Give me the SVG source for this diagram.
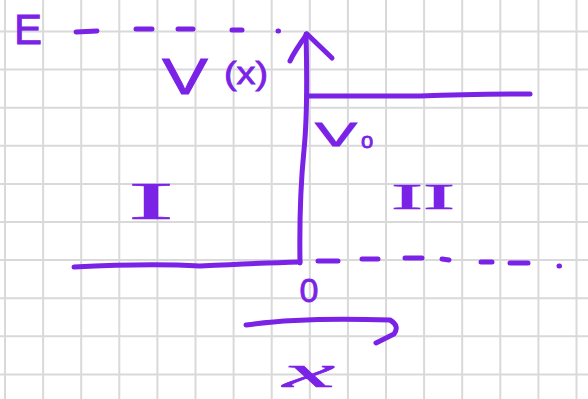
<svg xmlns="http://www.w3.org/2000/svg" width="588" height="399" viewBox="0 0 588 399">
<defs>
<style>
.grid line{stroke:#d9d9d9;stroke-width:2}
.pen{fill:none;stroke:#7a22e6;stroke-width:5;stroke-linecap:round;stroke-linejoin:round}
.lbl{fill:#7a22e6;stroke:#7a22e6;stroke-width:0.8;font-family:"Liberation Sans",Arial,sans-serif}
.ser{fill:#7a22e6;stroke:#7a22e6;stroke-width:0.6;font-family:"Liberation Serif","Times New Roman",serif}
</style>
</defs>
<rect width="588" height="399" fill="#ffffff"/>
<g class="grid">
<line x1="5" y1="0" x2="5" y2="399"/><line x1="43.1" y1="0" x2="43.1" y2="399"/><line x1="81.2" y1="0" x2="81.2" y2="399"/><line x1="119.3" y1="0" x2="119.3" y2="399"/><line x1="157.4" y1="0" x2="157.4" y2="399"/><line x1="195.5" y1="0" x2="195.5" y2="399"/><line x1="233.6" y1="0" x2="233.6" y2="399"/><line x1="271.7" y1="0" x2="271.7" y2="399"/><line x1="309.8" y1="0" x2="309.8" y2="399"/><line x1="347.9" y1="0" x2="347.9" y2="399"/><line x1="386" y1="0" x2="386" y2="399"/><line x1="424.1" y1="0" x2="424.1" y2="399"/><line x1="462.2" y1="0" x2="462.2" y2="399"/><line x1="500.3" y1="0" x2="500.3" y2="399"/><line x1="538.4" y1="0" x2="538.4" y2="399"/><line x1="576.5" y1="0" x2="576.5" y2="399"/>
<line x1="0" y1="31.5" x2="588" y2="31.5"/><line x1="0" y1="69.6" x2="588" y2="69.6"/><line x1="0" y1="107.7" x2="588" y2="107.7"/><line x1="0" y1="145.8" x2="588" y2="145.8"/><line x1="0" y1="183.9" x2="588" y2="183.9"/><line x1="0" y1="222" x2="588" y2="222"/><line x1="0" y1="260.1" x2="588" y2="260.1"/><line x1="0" y1="298.2" x2="588" y2="298.2"/><line x1="0" y1="336.3" x2="588" y2="336.3"/><line x1="0" y1="374.4" x2="588" y2="374.4"/>
</g>
<g id="connectors" class="pen">
<path id="e-level" d="M76,32 L97,31 M136,29 L152,29 M178,29 L193,29 M232,30 L242,30 M278,31 L278.5,31"/>
<path id="v-axis" d="M300,263 Q299,200 304,150 Q308,110 306,34"/>
<path id="v-arrowhead" d="M290,61 Q294,52 307,34 L332,58"/>
<path id="step" d="M308,96 L420,96 Q470,94 530,94"/>
<path id="baseline" d="M74,267 Q150,263 200,266 Q260,263 300,262"/>
<path id="zero-level" d="M318,261 L338,261 M362,259 L378,259 M405,258 L422,258 M442,259 L449,260 M481,262 L492,262 M510,263 L528,263 M559,266 L559.5,266"/>
<path id="x-axis" d="M246,325 Q300,317 390,320 Q400,326 394,334 L376,343"/>
</g>
<g id="label-E"><text class="lbl" x="14" y="44" font-size="42">E</text></g>
<g id="label-Vx"><text class="lbl" x="162" y="94" font-size="50" textLength="46" lengthAdjust="spacingAndGlyphs">V</text><text class="lbl" x="224" y="84" font-size="32" textLength="44" lengthAdjust="spacingAndGlyphs">(x)</text></g>
<g id="label-V0"><text class="lbl" x="315" y="146" font-size="34" textLength="42" lengthAdjust="spacingAndGlyphs">V</text><text class="lbl" x="361" y="148" font-size="22">o</text></g>
<g id="region-I"><text class="ser" x="128" y="219" font-size="52" textLength="46" lengthAdjust="spacingAndGlyphs">I</text></g>
<g id="region-II"><text class="ser" x="391" y="209" font-size="36" textLength="64" lengthAdjust="spacingAndGlyphs">II</text></g>
<g id="label-origin"><text class="lbl" x="309" y="302" font-size="34" text-anchor="middle">0</text></g>
<g id="label-x"><text class="ser" x="283" y="387" font-size="46" font-style="italic" textLength="52" lengthAdjust="spacingAndGlyphs">x</text></g>
</svg>
